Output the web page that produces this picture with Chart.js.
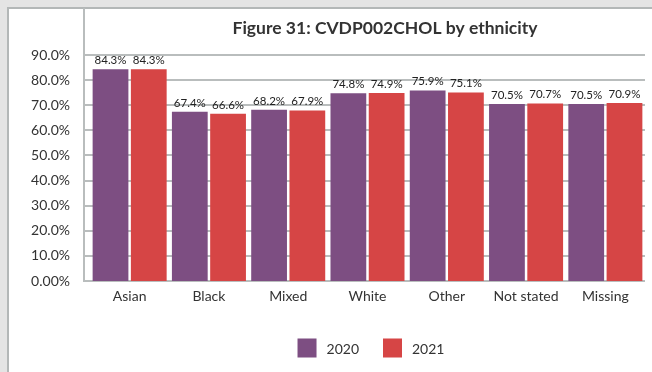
<!DOCTYPE html>
<html>
<head>
<meta charset="utf-8">
<script src="https://cdn.jsdelivr.net/npm/chart.js@4"></script>
<style>
  html, body { margin: 0; padding: 0; background: #e4e4e4; }
  #wrap { width: 652px; height: 372px; position: relative; }
</style>
</head>
<body>
<div id="wrap"><canvas id="chart" width="652" height="372"></canvas></div>
<script>
const categories = ["Asian", "Black", "Mixed", "White", "Other", "Not stated", "Missing"];
const values2020 = [84.3, 67.4, 68.2, 74.8, 75.9, 70.5, 70.5];
const values2021 = [84.3, 66.6, 67.9, 74.9, 75.1, 70.7, 70.9];
const yTicks = [0, 10, 20, 30, 40, 50, 60, 70, 80, 90];
const titleText = "Figure 31: CVDP002CHOL by ethnicity";

const FONT = "Lato, 'Open Sans', sans-serif";
const GRID = "#b9bdbd";
const AXIS_X = 84;

/* ================= FRAME + TITLE + GRID ================= */
const framePlugin = {
    id: "frame",
    beforeDraw(chart) {
        const c = chart.ctx;
        c.save();
        c.fillStyle = "#e4e4e4";
        c.fillRect(0, 0, chart.width, chart.height);
        c.fillStyle = "#ffffff";
        c.fillRect(8, 8, chart.width - 8, chart.height - 8);
        c.strokeStyle = "#b3b7b7";
        c.lineWidth = 2;
        c.beginPath();
        c.moveTo(8, chart.height);
        c.lineTo(8, 8);
        c.lineTo(chart.width, 8);
        c.stroke();
        c.fillStyle = "#333333";
        c.font = "bold 17.5px " + FONT;
        c.textAlign = "center";
        c.textBaseline = "middle";
        c.fillText(titleText, 385, 28);
        c.restore();
    },
    beforeDatasetsDraw(chart) {
        const c = chart.ctx;
        const area = chart.chartArea;
        const y = chart.scales.y;
        c.save();
        c.strokeStyle = GRID;
        c.lineWidth = 2;
        c.beginPath();
        yTicks.forEach(v => {
            const py = Math.round(y.getPixelForValue(v));
            c.moveTo(AXIS_X, py);
            c.lineTo(area.right, py);
        });
        // y axis line reaches the frame top
        c.moveTo(AXIS_X, 8);
        c.lineTo(AXIS_X, area.bottom + 1);
        c.stroke();
        c.restore();
    }
};

/* ================= VALUE LABELS + LEGEND ================= */
const labelPlugin = {
    id: "labels",
    afterDatasetsDraw(chart) {
        const c = chart.ctx;
        c.save();
        c.fillStyle = "#222222";
        c.font = "11.5px " + FONT;
        c.textAlign = "center";
        c.textBaseline = "bottom";
        chart.data.datasets.forEach((ds, i) => {
            chart.getDatasetMeta(i).data.forEach((bar, j) => {
                c.fillText(ds.data[j].toFixed(1) + "%", bar.x, bar.y - 3);
            });
        });

        // legend
        c.font = "14px " + FONT;
        c.textBaseline = "middle";
        c.textAlign = "left";
        const box = 19, gap = 10, spacing = 24;
        const items = chart.data.datasets.map(ds => ({
            label: ds.label, color: ds.backgroundColor,
            w: box + gap + c.measureText(ds.label).width
        }));
        const total = items.reduce((s, it) => s + it.w, 0) + spacing * (items.length - 1);
        let x = 371 - total / 2;
        const y = chart.chartArea.bottom + 67;
        items.forEach(it => {
            c.fillStyle = it.color;
            c.fillRect(x, y - box / 2, box, box);
            c.fillStyle = "#333333";
            c.fillText(it.label, x + box + gap, y + 1);
            x += it.w + spacing;
        });
        c.restore();
    }
};

new Chart(document.getElementById("chart"), {
    type: "bar",
    data: {
        labels: categories,
        datasets: [
            { label: "2020", data: values2020, backgroundColor: "#7d4e82" },
            { label: "2021", data: values2021, backgroundColor: "#d64545" }
        ]
    },
    options: {
        responsive: false,
        animation: false,
        layout: { padding: { top: 55, right: 7, bottom: 60, left: 0 } },
        datasets: { bar: { categoryPercentage: 0.965, barPercentage: 0.935 } },
        plugins: {
            legend: { display: false },
            title: { display: false },
            tooltip: { enabled: false }
        },
        scales: {
            x: {
                grid: { display: false, drawTicks: false },
                border: { display: false },
                ticks: { color: "#333333", font: { family: FONT, size: 14 }, padding: 7 },
                afterFit(scale) { scale.height = 31; }
            },
            y: {
                min: 0,
                max: 90,
                grid: { display: false, drawTicks: false },
                border: { display: false },
                afterBuildTicks(scale) { scale.ticks = yTicks.map(v => ({ value: v })); },
                ticks: {
                    color: "#333333",
                    font: { family: FONT, size: 14 },
                    padding: 20,
                    callback: v => v === 0 ? "0.00%" : v.toFixed(1) + "%"
                },
                afterFit(scale) { scale.width = 90; }
            }
        }
    },
    plugins: [framePlugin, labelPlugin]
});
</script>
</body>
</html>
